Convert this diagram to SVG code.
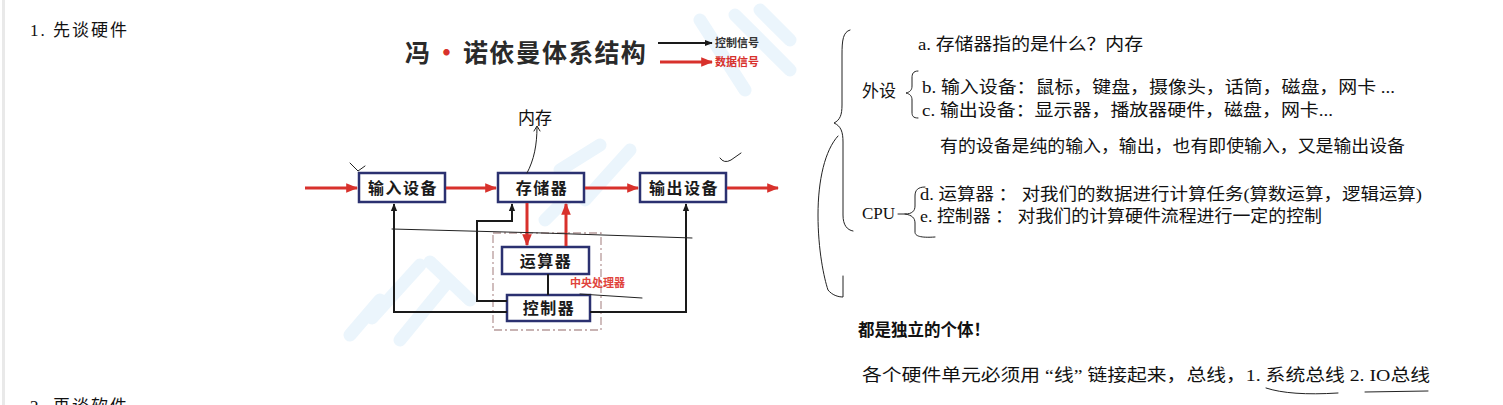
<svg xmlns="http://www.w3.org/2000/svg" width="1503" height="405" viewBox="0 0 1503 405">
<style>
.note{font-family:"Liberation Serif","Noto Sans CJK SC",serif;font-size:17px;fill:#111}
.box{fill:#fff;stroke:#2b3170;stroke-width:2.5}
.blabel{font-family:"Noto Sans CJK SC","Liberation Sans",sans-serif;font-size:16px;font-weight:bold;fill:#1a1a1a;text-anchor:middle;letter-spacing:1.5px}
.red{stroke:#d8312c;stroke-width:3;fill:none}
.blk{stroke:#1a1a1a;stroke-width:2;fill:none}
.hand{stroke:#222;stroke-width:1;fill:none;stroke-linecap:round;stroke-linejoin:round}
.wm{stroke:#e4f2fb;stroke-width:13;fill:none;stroke-linecap:round;opacity:0.75}
</style>
<defs>
<marker id="ar" viewBox="0 0 10 10" refX="9" refY="5" markerWidth="4" markerHeight="4" orient="auto" markerUnits="strokeWidth"><path d="M0 1 L10 5 L0 9 z" fill="#d8312c"/></marker>
<marker id="ab" viewBox="0 0 10 10" refX="9" refY="5" markerWidth="4" markerHeight="4" orient="auto" markerUnits="strokeWidth"><path d="M0 1 L10 5 L0 9 z" fill="#1a1a1a"/></marker>
</defs>
<rect width="1503" height="405" fill="#fff"/>
<rect x="2" y="0" width="3" height="405" fill="#e9e9e9"/>

<g id="watermark">
<path class="wm" d="M350 335 L380 300 M372 318 L420 265 M400 340 L445 285 M430 262 L470 300"/>
<path class="wm" d="M560 170 L600 145 M585 200 L630 150 M545 220 L575 190"/>
<path class="wm" d="M700 20 L745 90 M735 15 L790 70 M760 10 L790 40"/>
</g>

<g id="headings">
<text class="note" x="30" y="36" font-size="16" textLength="97" lengthAdjust="spacing">1.  先谈硬件</text>
<text class="note" x="30" y="412" font-size="16" textLength="97" lengthAdjust="spacing">2.  再谈软件</text>
</g>

<g id="title">
<text x="405" y="62" font-family="'Noto Sans CJK SC',sans-serif" font-size="25" font-weight="bold" fill="#2a2a2a">冯<tspan fill="#d8312c" dx="4">·</tspan><tspan dx="4" letter-spacing="1.3">诺依曼体系结构</tspan></text>
</g>

<g id="legend">
<line class="blk" x1="658" y1="43" x2="712" y2="43" stroke-width="2.5" marker-end="url(#ab)"/>
<line class="red" x1="660" y1="62" x2="712" y2="62" stroke-width="2.5" marker-end="url(#ar)"/>
<text x="715" y="47" font-family="'Noto Sans CJK SC',sans-serif" font-size="11" font-weight="bold" fill="#333">控制信号</text>
<text x="715" y="66" font-family="'Noto Sans CJK SC',sans-serif" font-size="11" font-weight="bold" fill="#d8312c">数据信号</text>
</g>

<g id="neicun">
<text class="note" x="518" y="124" font-size="16.5">内存</text>
</g>

<g id="cpu-region">
<rect x="493" y="233" width="108" height="97" fill="none" stroke="#b79a9a" stroke-width="1.3" stroke-dasharray="8 3 2 3"/>
<text x="570" y="287" font-family="'Noto Sans CJK SC',sans-serif" font-size="11" font-weight="bold" fill="#e0443c">中央处理器</text>
</g>

<g id="input"><rect class="box" x="359" y="173" width="86" height="29"/><text class="blabel" x="403" y="194">输入设备</text></g>
<g id="memory"><rect class="box" x="498" y="173" width="86" height="29"/><text class="blabel" x="542" y="194">存储器</text></g>
<g id="output"><rect class="box" x="640" y="173" width="86" height="29"/><text class="blabel" x="684" y="194">输出设备</text></g>
<g id="alu"><rect class="box" x="502" y="247" width="87" height="27"/><text class="blabel" x="546" y="267">运算器</text></g>
<g id="control"><rect class="box" x="507" y="295" width="83" height="26"/><text class="blabel" x="549" y="314">控制器</text></g>

<g id="connectors">
<path class="red" d="M305 188 H357" marker-end="url(#ar)"/>
<path class="red" d="M446 188 H496" marker-end="url(#ar)"/>
<path class="red" d="M585 188 H638" marker-end="url(#ar)"/>
<path class="red" d="M727 188 H778" marker-end="url(#ar)"/>
<path class="red" d="M527 203 V245" marker-end="url(#ar)"/>
<path class="red" d="M566 246 V204" marker-end="url(#ar)"/>
<path class="blk" d="M548 274 V295"/>
<path class="blk" d="M507 312 H394 V204" marker-end="url(#ab)"/>
<path class="blk" d="M507 301 H477 V221 H512 V204" marker-end="url(#ab)"/>
<path class="blk" d="M590 312 H686 V204" marker-end="url(#ab)"/>
</g>

<g id="handwriting">
<path class="hand" d="M537 127 C537 145 534 160 527 173"/>
<path class="hand" d="M534 131 L537 126 L540 131"/>
<path class="hand" d="M392 229 L543 233 L692 238"/>
<path class="hand" d="M580 294 L642 298"/>
<path class="hand" d="M350 163 L358 171 L365 166"/>
<path class="hand" d="M720 158 Q724 164 731 160 L741 153"/>
<path class="hand" stroke="#555" d="M850 30 C843 32 842 40 842 55 L842 105 C842 115 840 120 834 123 C841 126 843 132 843 142 L843 215 C843 225 847 230 853 231"/>
<path class="hand" stroke="#555" d="M838 136 C825 150 818 180 818 215 C818 250 824 278 828 290 C832 295 838 297 843 297 L843 276"/>
<path class="hand" stroke="#555" d="M918 71 C913 71 912 74 912 78 L912 86 C912 90 910 92 906 93 C910 94 912 96 912 100 L912 112 C912 116 913 118 918 118"/>
<path class="hand" stroke="#555" d="M925 187 C918 187 915 190 915 196 L915 206 C915 211 912 214 905 214 L898 214 M905 214 C912 215 915 218 915 223 L915 232 C915 236 920 238 935 237"/>
<path class="hand" stroke="#555" d="M1266 388 Q1290 396 1338 393"/>
<path class="hand" stroke="#555" d="M1365 392 L1428 391"/>
</g>

<g id="notes">
<text class="note" x="918" y="50" textLength="225" lengthAdjust="spacingAndGlyphs">a.  存储器指的是什么？内存</text>
<text class="note" x="862" y="97">外设</text>
<text class="note" x="922" y="93" textLength="473" lengthAdjust="spacingAndGlyphs">b.  输入设备：鼠标，键盘，摄像头，话筒，磁盘，网卡 ...</text>
<text class="note" x="922" y="116" textLength="411" lengthAdjust="spacingAndGlyphs">c.  输出设备：显示器，播放器硬件，磁盘，网卡...</text>
<text class="note" x="940" y="152" textLength="465" lengthAdjust="spacingAndGlyphs">有的设备是纯的输入，输出，也有即使输入，又是输出设备</text>
<text class="note" x="862" y="219">CPU</text>
<text class="note" x="920" y="200" textLength="502" lengthAdjust="spacingAndGlyphs">d. 运算器 ： 对我们的数据进行计算任务(算数运算，逻辑运算)</text>
<text class="note" x="920" y="222" textLength="402" lengthAdjust="spacingAndGlyphs">e. 控制器 ： 对我们的计算硬件流程进行一定的控制</text>
<text class="note" x="858" y="336" font-weight="bold" textLength="132" lengthAdjust="spacingAndGlyphs">都是独立的个体！</text>
<text class="note" x="862" y="381" textLength="568" lengthAdjust="spacingAndGlyphs">各个硬件单元必须用 “线” 链接起来，总线，1. 系统总线 2. IO总线</text>
</g>
</svg>
